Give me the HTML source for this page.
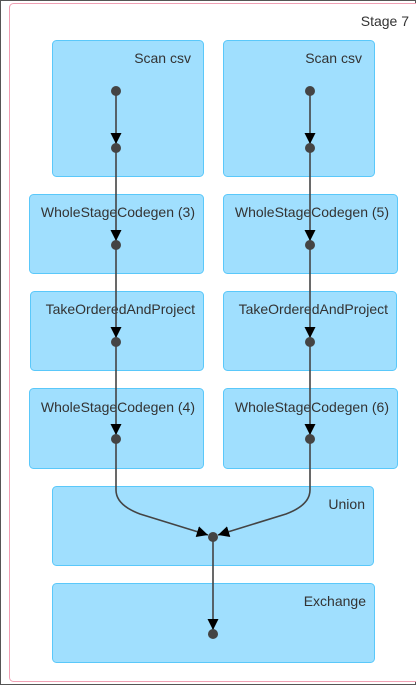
<!DOCTYPE html>
<html><head><style>html,body{margin:0;padding:0;background:#fff}svg{display:block}text{font-family:"Liberation Sans",sans-serif;font-size:14px;fill:#333}</style></head>
<body>
<svg width="416" height="685" viewBox="0 0 416 685">
<defs><marker id="a" viewBox="0 0 10 10" refX="10" refY="5" markerWidth="7" markerHeight="7" orient="auto"><path d="M0,0L10,5L0,10z" fill="#000"/></marker></defs>
<rect x="0.5" y="0.5" width="415" height="684" fill="#fff" stroke="#555"/>
<rect x="9.5" y="3.5" width="420" height="678" rx="4" fill="#fff" stroke="#f0a0b4"/>
<text x="409" y="26" text-anchor="end">Stage 7</text>
<g fill="#a0dffe" stroke="#5ac8fa" stroke-width="1">
<rect x="52.5" y="40.5" width="151" height="136" rx="4"/>
<rect x="223.5" y="40.5" width="151" height="136" rx="4"/>
<rect x="29.5" y="194.5" width="174" height="79" rx="4"/>
<rect x="223.5" y="194.5" width="174" height="79" rx="4"/>
<rect x="30.5" y="291.5" width="173" height="79" rx="4"/>
<rect x="223.5" y="291.5" width="173" height="79" rx="4"/>
<rect x="29.5" y="388.5" width="174" height="80" rx="4"/>
<rect x="223.5" y="388.5" width="174" height="80" rx="4"/>
<rect x="52.5" y="486.5" width="321" height="79" rx="4"/>
<rect x="52.5" y="583.5" width="322" height="79" rx="4"/>
</g>
<g text-anchor="end">
<text x="191" y="63">Scan csv</text>
<text x="362" y="63">Scan csv</text>
<text x="195" y="217">WholeStageCodegen (3)</text>
<text x="389" y="217">WholeStageCodegen (5)</text>
<text x="195" y="314">TakeOrderedAndProject</text>
<text x="388" y="314">TakeOrderedAndProject</text>
<text x="195" y="412">WholeStageCodegen (4)</text>
<text x="389" y="412">WholeStageCodegen (6)</text>
<text x="365" y="509">Union</text>
<text x="366" y="606">Exchange</text>
</g>
<g stroke="#444" stroke-width="1.6" fill="none" marker-end="url(#a)">
<line x1="116" y1="91" x2="116" y2="144"/>
<line x1="116" y1="148" x2="116" y2="241"/>
<line x1="116" y1="245" x2="116" y2="338"/>
<line x1="116" y1="342" x2="116" y2="435"/>
<line x1="310" y1="91" x2="310" y2="144"/>
<line x1="310" y1="148" x2="310" y2="241"/>
<line x1="310" y1="245" x2="310" y2="338"/>
<line x1="310" y1="342" x2="310" y2="435"/>
<path d="M116,439 L116,490 Q116,505 140,514 L208,535"/>
<path d="M310,439 L310,490 Q310,505 286,514 L218,535"/>
<line x1="213" y1="537" x2="213" y2="630"/>
</g>
<g fill="#444">
<circle cx="116" cy="91" r="5"/><circle cx="116" cy="148" r="5"/><circle cx="116" cy="245" r="5"/><circle cx="116" cy="342" r="5"/><circle cx="116" cy="439" r="5"/>
<circle cx="310" cy="91" r="5"/><circle cx="310" cy="148" r="5"/><circle cx="310" cy="245" r="5"/><circle cx="310" cy="342" r="5"/><circle cx="310" cy="439" r="5"/>
<circle cx="213" cy="537" r="5"/><circle cx="213" cy="634" r="5"/>
</g>
</svg>
</body></html>
